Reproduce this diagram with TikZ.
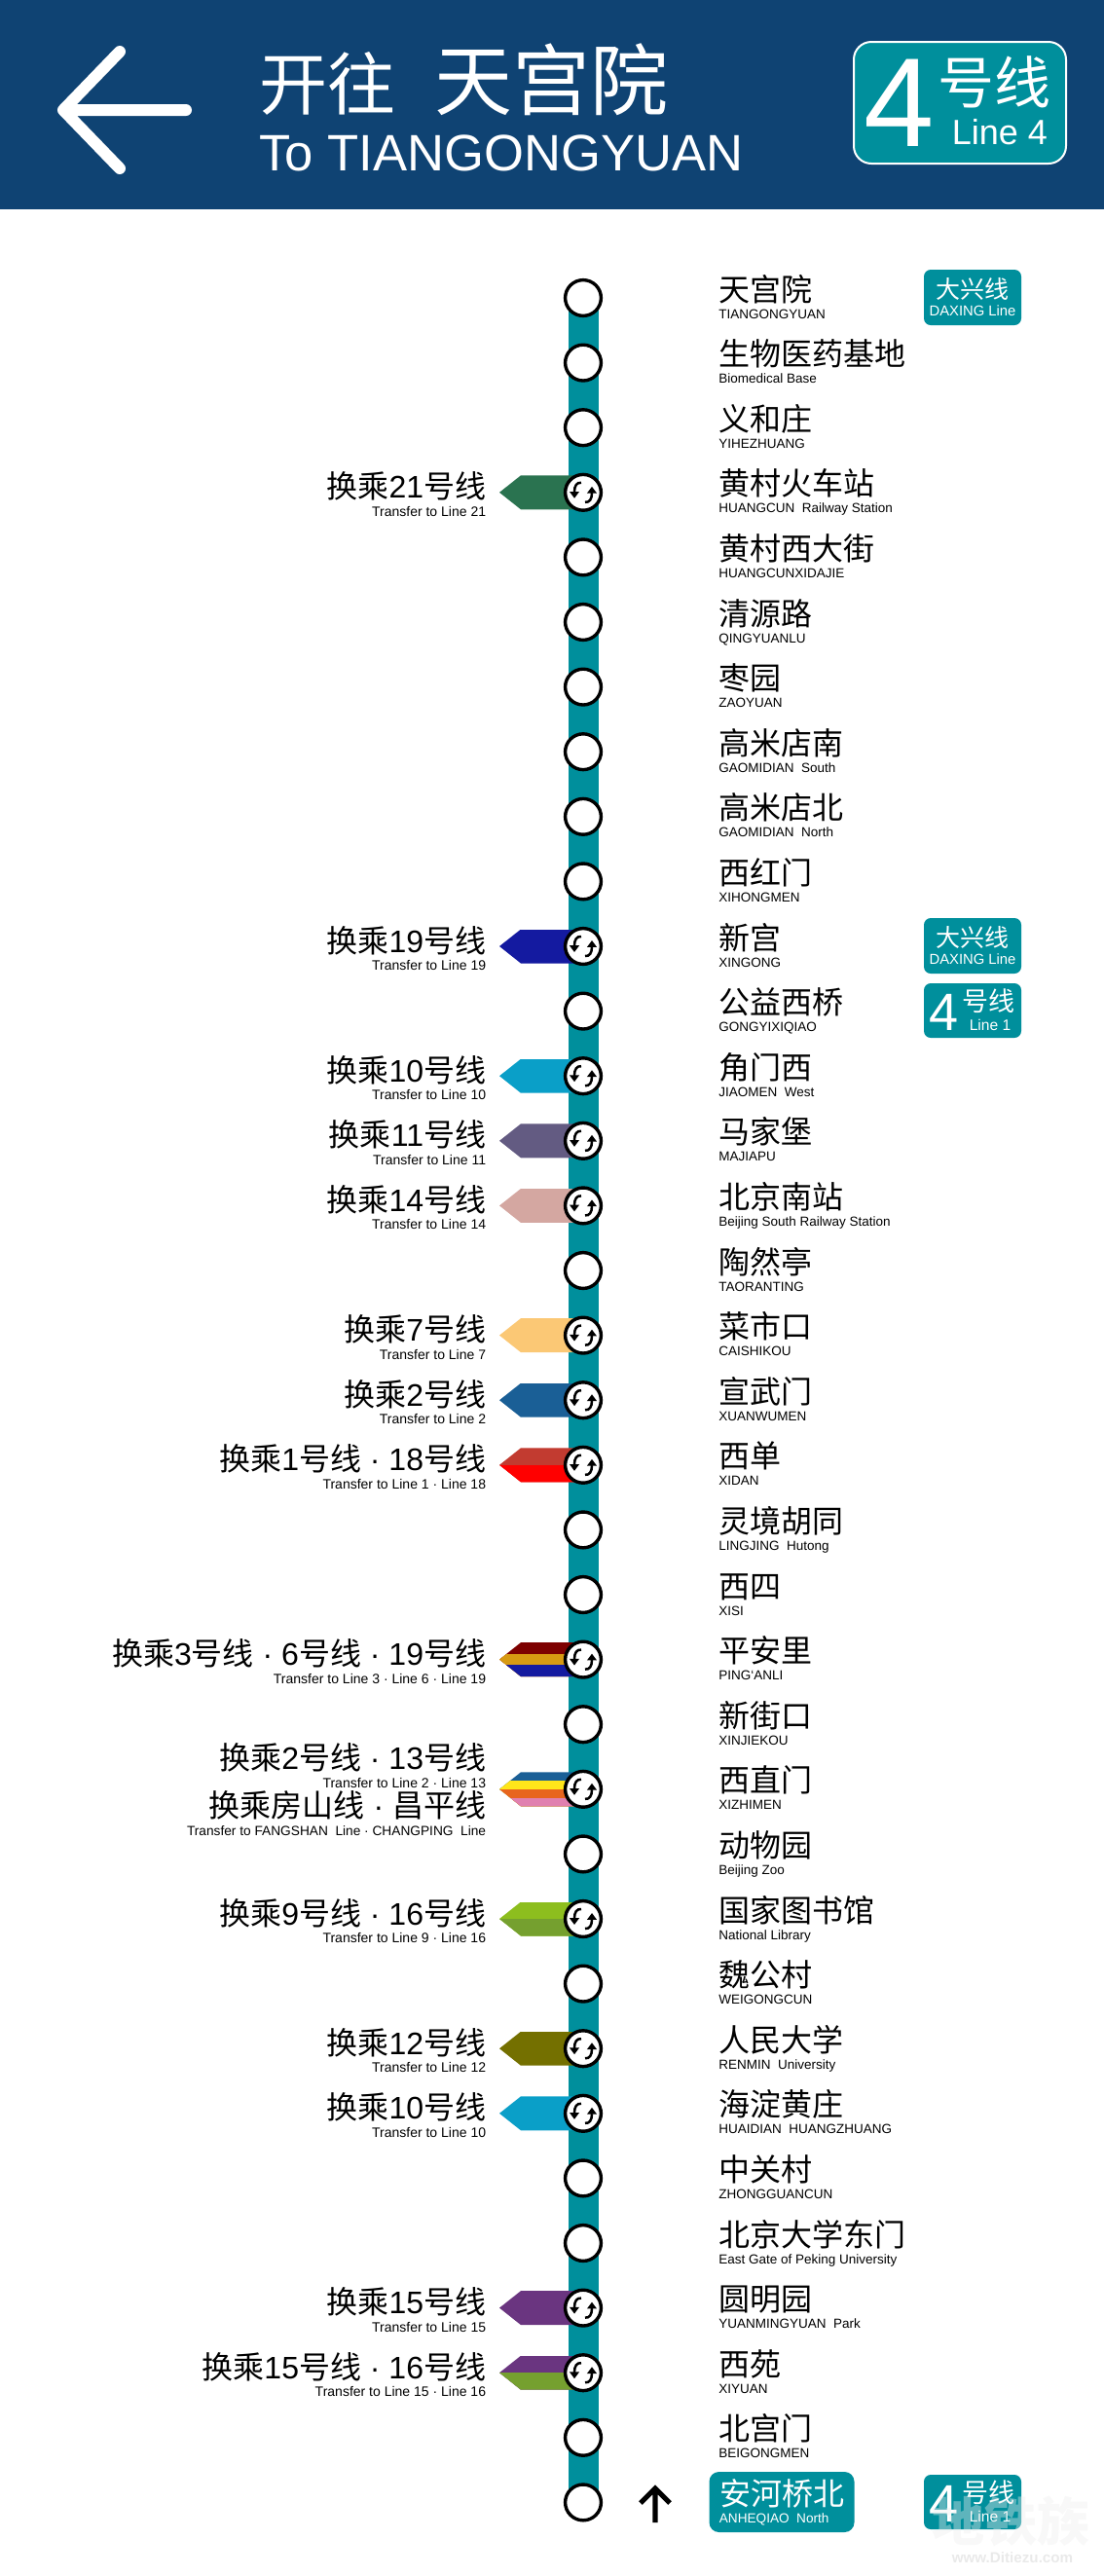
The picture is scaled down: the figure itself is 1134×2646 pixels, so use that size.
\documentclass[tikz,border=0pt]{standalone}
\usepackage{fontspec}
\setmainfont{Liberation Sans}
\newfontfamily\cjk{Noto Sans CJK SC}
\usetikzlibrary{arrows.meta,calc,backgrounds}

\definecolor{navy}{HTML}{0F4373}
\definecolor{teal4}{HTML}{008F9C}
\definecolor{lnone}{HTML}{C23B30}
\definecolor{lnonee}{HTML}{FF0000}
\definecolor{lntwo}{HTML}{1A5F96}
\definecolor{lnthree}{HTML}{7D0000}
\definecolor{lnsix}{HTML}{D79A12}
\definecolor{lnseven}{HTML}{FBC875}
\definecolor{lnnine}{HTML}{8DBE1E}
\definecolor{lnten}{HTML}{0A9FC8}
\definecolor{lneleven}{HTML}{635B82}
\definecolor{lntwelve}{HTML}{747000}
\definecolor{lnthirteen}{HTML}{FFE61A}
\definecolor{lnfourteen}{HTML}{D4A7A1}
\definecolor{lnfifteen}{HTML}{6A3580}
\definecolor{lnsixteen}{HTML}{75A02F}
\definecolor{lnnineteen}{HTML}{141AA0}
\definecolor{lntwentyone}{HTML}{2A7350}
\definecolor{lnfang}{HTML}{E8651E}
\definecolor{lnchang}{HTML}{E080B0}

% text helpers
\newcommand{\hc}{{\cjk 换乘}}
\newcommand{\hx}{{\cjk 号线}}
\newcommand{\fs}[1]{\fontsize{#1}{#1}\selectfont}

% striped flag beside a station: number, stripes, colours
\newcommand{\flag}[3]{%
	\begin{scope}[shift={(s#1)}]
		\clip (-86,0) -- (-64,-17.5) -- (-9,-17.5) -- (-9,17.5) -- (-64,17.5) -- cycle;
		\foreach \c [count=\k from 0] in {#3}
		\fill[\c] (-90,{-17.5+35*\k/#2}) rectangle (0,20);
	\end{scope}}

% transfer label left of a station: offset, number, chinese, english
\newcommand{\xfer}[4][6]{%
	\node[xfer zh] (z#2#1) at ($(s#2)+(-99.5,#1)$) {#3};
	\node[xfer en] (e#2#1) at ($(s#2)+(-99.5,#1+18.5)$) {#4};}

% small line 4 badge: name, y
\newcommand{\lineone}[2]{%
	\node[badge,minimum width=50pt,minimum height=28pt] (#1) at (999,#2) {};
	\node[badge text,font=\fs{27}] (#1a) at ($(#1)+(-29,20.4)$) {4};
	\node[badge text,font=\cjk\fs{13.5}] (#1b) at ($(#1)+(16,0)$) {号线};
	\node[badge text,font=\fs{7.8}] (#1c) at ($(#1)+(18,20.4)$) {Line 1};}

% daxing line badge: name, y
\newcommand{\daxing}[2]{%
	\node[badge,minimum width=50pt,minimum height=28.5pt] (#1) at (999,#2) {};
	\node[badge text,font=\cjk\fs{12.5}] (#1a) at ($(#1)+(0,1)$) {大兴线};
	\node[badge text,font=\fs{7.4}] (#1b) at ($(#1)+(0,19)$) {DAXING Line};}

\begin{document}
\begin{tikzpicture}[x=0.5pt,y=-0.5pt,
	stop node/.style={circle,draw=black,fill=white,line width=1.7pt,minimum size=18.4pt,inner sep=0pt},
	route/.style={teal4,line width=15.5pt},
	name zh/.style={anchor=base west,inner sep=0pt,font=\cjk\fs{16}},
	name en/.style={anchor=base west,inner sep=0pt,font=\fs{6.75}},
	xfer zh/.style={anchor=base east,inner sep=0pt,font=\fs{16}},
	xfer en/.style={anchor=base east,inner sep=0pt,font=\fs{7}},
	badge/.style={fill=teal4,rounded corners=3.5pt,inner sep=0pt},
	badge text/.style={text=white,anchor=base,inner sep=0pt},
	swap/.style={-{Triangle[width=4.8pt,length=3.4pt]},line width=1.25pt,black}]

	\useasboundingbox (0,0) rectangle (1134,2646);

	% header
	\fill[navy] (0,0) rectangle (1134,215);
	\coordinate (tip) at (65,113);
	\coordinate (armup) at (123,53);
	\coordinate (armdown) at (123,173);
	\coordinate (tail) at (191,113);
	\draw[white,line width=6pt,line cap=round,line join=round] (armup) -- (tip) -- (armdown) (tip) -- (tail);
	\node[white,anchor=base west,inner sep=0pt,font=\cjk\fs{35}] (towards) at (266,112) {开往};
	\node[white,anchor=base west,inner sep=0pt,font=\cjk\fs{40}] (terminus) at (446,112) {天宫院};
	\node[white,anchor=base west,inner sep=0pt,font=\fs{26.3}] (terminusen) at (266,175) {To TIANGONGYUAN};
	\node[draw=white,line width=1pt,fill=teal4,rounded corners=9pt,inner sep=0pt,minimum width=109pt,minimum height=62.5pt] (logo) at (986,105.5) {};
	\node[badge text,font=\fs{65}] (logoa) at (923.5,150) {4};
	\node[badge text,font=\cjk\fs{29}] (logob) at (1021,106) {号线};
	\node[badge text,font=\fs{18}] (logoc) at (1027,148) {Line 4};

	% stations
	\foreach \n in {1,...,35}
	\node[stop node] (s\n) at (599,{306+66.6*(\n-1)}) {};

	\foreach \zh/\en [count=\n] in {天宫院/TIANGONGYUAN,生物医药基地/Biomedical Base,义和庄/YIHEZHUANG,
		黄村火车站/HUANGCUN~~Railway Station,黄村西大街/HUANGCUNXIDAJIE,清源路/QINGYUANLU,枣园/ZAOYUAN,
		高米店南/GAOMIDIAN~~South,高米店北/GAOMIDIAN~~North,西红门/XIHONGMEN,新宫/XINGONG,
		公益西桥/GONGYIXIQIAO,角门西/JIAOMEN~~West,马家堡/MAJIAPU,北京南站/Beijing South Railway Station,
		陶然亭/TAORANTING,菜市口/CAISHIKOU,宣武门/XUANWUMEN,西单/XIDAN,灵境胡同/LINGJING~~Hutong,西四/XISI,
		平安里/PING`ANLI,新街口/XINJIEKOU,西直门/XIZHIMEN,动物园/Beijing Zoo,国家图书馆/National Library,
		魏公村/WEIGONGCUN,人民大学/RENMIN~~University,海淀黄庄/HUAIDIAN~~HUANGZHUANG,中关村/ZHONGGUANCUN,
		北京大学东门/East Gate of Peking University,圆明园/YUANMINGYUAN~~Park,西苑/XIYUAN,北宫门/BEIGONGMEN}
	{
		\node[name zh] (nz\n) at ($(s\n)+(139,3)$) {\zh};
		\node[name en] (ne\n) at ($(s\n)+(139,21)$) {\en};
	}

	% line and flags go under the circles
	\begin{pgfonlayer}{background}
		\draw[route] (s1.center) -- (s35.center);
		\flag{4}{1}{lntwentyone}
		\flag{11}{1}{lnnineteen}
		\flag{13}{1}{lnten}
		\flag{14}{1}{lneleven}
		\flag{15}{1}{lnfourteen}
		\flag{17}{1}{lnseven}
		\flag{18}{1}{lntwo}
		\flag{19}{2}{lnone,lnonee}
		\flag{22}{3}{lnthree,lnsix,lnnineteen}
		\flag{24}{4}{lntwo,lnthirteen,lnfang,lnchang}
		\flag{26}{2}{lnnine,lnsixteen}
		\flag{28}{1}{lntwelve}
		\flag{29}{1}{lnten}
		\flag{32}{1}{lnfifteen}
		\flag{33}{2}{lnfifteen,lnsixteen}
	\end{pgfonlayer}

	% transfer arrows in the circles
	\foreach \n in {4,11,13,14,15,17,18,19,22,24,26,28,29,32,33}
	{
		\begin{scope}[shift={(s\n)}]
			\draw[swap] (-2,-10) .. controls (-6.5,-10.5) and (-9,-7) .. (-9,6);
			\draw[swap] (2,10) .. controls (6.5,10.5) and (9,7) .. (9,-6);
		\end{scope}
	}

	% transfer labels
	\xfer{4}{\hc 21\hx}{Transfer to Line 21}
	\xfer{11}{\hc 19\hx}{Transfer to Line 19}
	\xfer{13}{\hc 10\hx}{Transfer to Line 10}
	\xfer{14}{\hc 11\hx}{Transfer to Line 11}
	\xfer{15}{\hc 14\hx}{Transfer to Line 14}
	\xfer{17}{\hc 7\hx}{Transfer to Line 7}
	\xfer{18}{\hc 2\hx}{Transfer to Line 2}
	\xfer{19}{\hc 1\hx{} · 18\hx}{Transfer to Line 1 · Line 18}
	\xfer{22}{\hc 3\hx{} · 6\hx{} · 19\hx}{Transfer to Line 3 · Line 6 · Line 19}
	\xfer[-20]{24}{\hc 2\hx{} · 13\hx}{Transfer to Line 2 · Line 13}
	\xfer[29]{24}{{\cjk 换乘房山线} · {\cjk 昌平线}}{\fs{6.85}Transfer to FANGSHAN~~Line · CHANGPING~~Line}
	\xfer{26}{\hc 9\hx{} · 16\hx}{Transfer to Line 9 · Line 16}
	\xfer{28}{\hc 12\hx}{Transfer to Line 12}
	\xfer{29}{\hc 10\hx}{Transfer to Line 10}
	\xfer{32}{\hc 15\hx}{Transfer to Line 15}
	\xfer{33}{\hc 15\hx{} · 16\hx}{Transfer to Line 15 · Line 16}

	% badges
	\daxing{dxa}{305.5}
	\daxing{dxb}{971.5}
	\lineone{lna}{1038}
	\lineone{lnb}{2570}

	% end of line
	\coordinate (uptip) at (673,2556);
	\coordinate (upend) at (673,2591);
	\coordinate (upl) at (658,2571);
	\coordinate (upr) at (688,2571);
	\draw[black,line width=2.6pt] (upend) -- (uptip) (upl) -- (uptip) -- (upr);
	\node[badge,rounded corners=5pt,minimum width=74.5pt,minimum height=31pt] (anhe) at (803,2570) {};
	\node[badge text,anchor=base west,font=\cjk\fs{16}] (anhez) at (739,2573.5) {安河桥北};
	\node[badge text,anchor=base west,font=\fs{6.8}] (anhee) at (738.5,2591) {ANHEQIAO~~North};

	% watermark
	\node[opacity=.4,text=white!93!black,anchor=base,font=\cjk\bfseries\fs{27}] (wma) at (1038,2610) {地铁族};
	\node[opacity=.7,text=black!12,anchor=base,font=\bfseries\fs{7.6}] (wmb) at (1040,2632) {www.Ditiezu.com};
\end{tikzpicture}
\end{document}
